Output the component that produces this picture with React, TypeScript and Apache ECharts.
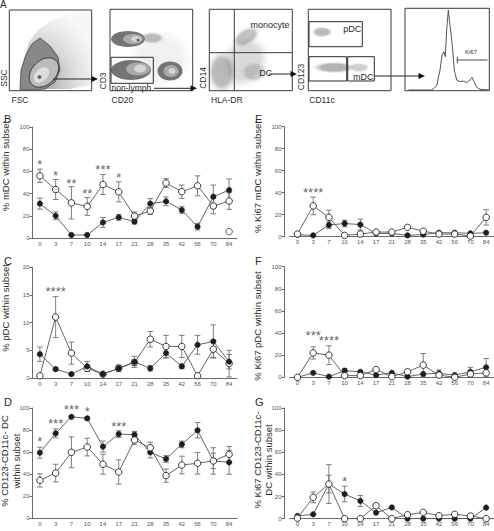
import React, { useEffect, useRef } from 'react';
import * as echarts from 'echarts';

// Days after infection (shared category axis for every time-course panel)
const days = ['0', '3', '7', '10', '14', '17', '21', '28', '35', '42', '56', '70', '84'];

// B: % mDC within subset
const mdcOpen = [56, 43.7, 31.7, 28.4, 48.2, 41.6, 19.8, 24.3, 49.5, 41.7, 47, 28.8, 33.3];
const mdcOpenErr = [6, 9, 14.5, 8, 9, 9, 3.6, 3, 4, 6, 9, 7, 7.5];
const mdcFilled = [31, 20, 2.7, 2.7, 14, 18.6, 14.7, 31, 33, 25.2, 10.2, 37.2, 43.2];
const mdcFilledErr = [5, 3.5, 0.5, 0.5, 4.5, 2.5, 2, 4.5, 4, 3, 3, 10.5, 10];
const mdcExtraDay = ['84'];
const mdcExtraValue = [5.7];
const mdcStarDay = [0, 1, 2, 3, 4, 5];
const mdcStarY = [68.6, 59, 52, 43, 64, 57.2];
const mdcStarText = ['*', '*', '**', '**', '***', '*'];

// C: % pDC within subset
const pdcOpen = [0.4, 11, 4.5, 1.75, 0.7, 1.75, 2.8, 7, 5.7, 5.7, 0.4, 5.2, 2.6];
const pdcOpenErr = [0.3, 3.7, 2, 0.5, 0.2, 0.6, 0.5, 1.4, 2, 2, 0, 1.5, 2.4];
const pdcFilled = [4.3, 1.6, 0.7, 2.1, 0.7, 1.75, 2.9, 1.75, 4.5, 2.1, 6, 6.6, 2.95];
const pdcFilledErr = [1.3, 0.3, 0.2, 0.9, 0.2, 0.5, 1, 0.5, 0.9, 0.4, 1.7, 3, 1.3];
const pdcStarDay = [1];
const pdcStarY = [16.2];
const pdcStarText = ['****'];

// D: % CD123-CD11c- DC within subset
const dnOpen = [34.4, 41, 59.8, 64.6, 49, 42, 71, 64, 38.7, 48.3, 49.9, 52, 58];
const dnOpenErr = [6, 8, 14, 8, 9, 11, 4, 5, 6, 8, 9.8, 12, 7];
const dnFilled = [59.5, 77, 92, 90.6, 65, 76.4, 75.8, 59.8, 53.8, 67, 79.8, 52, 50.8];
const dnFilledErr = [5, 4, 1, 1.5, 5, 3, 3, 5, 3, 3, 7, 7, 10.8];
const dnStarDay = [0, 1, 2, 3, 5];
const dnStarY = [72.5, 88.5, 101.5, 99.7, 85.5];
const dnStarText = ['*', '***', '***', '*', '***'];

// E: % Ki67+ mDC within subset
const kiMdcOpen = [2.4, 28, 17.6, 1.2, 2.4, 4.2, 4.2, 8.5, 5, 2.4, 2.4, 0.6, 17.6];
const kiMdcOpenErr = [0, 8, 6.5, 0, 0, 0, 0, 0, 0, 0, 0, 0, 7];
const kiMdcFilled = [1.8, 1.2, 10.6, 12, 11, 3, 3, 1.2, 2, 3.6, 3.6, 3, 3.6];
const kiMdcFilledErr = [0, 0, 3, 3, 5, 0, 0, 0, 0, 0, 0, 0, 0];
const kiMdcStarDay = [1];
const kiMdcStarY = [43];
const kiMdcStarText = ['****'];

// F: % Ki67+ pDC within subset
const kiPdcOpen = [0, 22, 20, 1.5, 1.5, 7, 0.6, 5, 11, 2, 0, 3, 4];
const kiPdcOpenErr = [0, 5.5, 8.5, 0, 0, 0, 0, 0, 10.5, 0, 0, 0, 0];
const kiPdcFilled = [0, 4, 0.6, 6, 5, 2, 4, 0.6, 3, 3.6, 2, 5, 9];
const kiPdcFilledErr = [0, 0, 0, 2, 1, 0, 0, 0, 0, 3, 0, 4, 8];
const kiPdcStarDay = [1, 2];
const kiPdcStarY = [40.5, 35.7];
const kiPdcStarText = ['***', '****'];

// G: % Ki67+ CD123-CD11c- DC within subset
const kiDnOpen = [0.5, 19.3, 31.3, 0, 0, 11.7, 0, 3.6, 5.7, 2.7, 4, 2.4, 0];
const kiDnOpenErr = [0, 4.8, 17.5, 0, 0, 2, 0, 0, 0, 0, 0, 0, 0];
const kiDnFilled = [2.5, 4, 31.3, 22.3, 16, 5.4, 10.2, 0, 0, 0, 0, 0, 10];
const kiDnFilledErr = [0, 0, 8, 7, 5, 0, 0, 0, 0, 0, 0, 0, 0];
const kiDnStarDay = [3];
const kiDnStarY = [35.9];
const kiDnStarText = ['*'];

const FONT = 'Liberation Sans, Arial, Helvetica, sans-serif';
const AXIS_COLOR = '#6a6a6a';
const LABEL_COLOR = '#555';
const TEXT_COLOR = '#2a2a2a';

type Panel = {
  letter: string;
  title: string;
  titleX: number;
  titleY: number;
  letterX: number;
  letterY: number;
  left: number;
  top: number;
  width: number;
  height: number;
  yOffset: number;
  yMax: number;
  yInterval: number;
  open: number[];
  openErr: number[];
  filled: number[];
  filledErr: number[];
  starDay: number[];
  starY: number[];
  starText: string[];
  openOnTop: boolean;
};

const panels: Panel[] = [
  {
    letter: 'B', title: '% mDC within subset', titleX: 5, titleY: 166, letterX: 4, letterY: 119,
    left: 32, top: 127, width: 205, height: 111, yOffset: 0, yMax: 100, yInterval: 20,
    open: mdcOpen, openErr: mdcOpenErr, filled: mdcFilled, filledErr: mdcFilledErr,
    starDay: mdcStarDay, starY: mdcStarY, starText: mdcStarText, openOnTop: true,
  },
  {
    letter: 'C', title: '% pDC within subset', titleX: 5, titleY: 308, letterX: 4, letterY: 261,
    left: 32, top: 267.3, width: 205, height: 110.7, yOffset: 0, yMax: 20, yInterval: 5,
    open: pdcOpen, openErr: pdcOpenErr, filled: pdcFilled, filledErr: pdcFilledErr,
    starDay: pdcStarDay, starY: pdcStarY, starText: pdcStarText, openOnTop: false,
  },
  {
    letter: 'D', title: '% CD123-CD11c- DC\nwithin subset', titleX: 10.5, titleY: 461, letterX: 4, letterY: 402,
    left: 32, top: 408, width: 205, height: 110.3, yOffset: 0, yMax: 100, yInterval: 20,
    open: dnOpen, openErr: dnOpenErr, filled: dnFilled, filledErr: dnFilledErr,
    starDay: dnStarDay, starY: dnStarY, starText: dnStarText, openOnTop: true,
  },
  {
    letter: 'E', title: '% Ki67 mDC within subset', titleX: 257, titleY: 177, letterX: 255, letterY: 119,
    left: 289.6, top: 126.7, width: 205.8, height: 110, yOffset: 5.6, yMax: 100, yInterval: 20,
    open: kiMdcOpen, openErr: kiMdcOpenErr, filled: kiMdcFilled, filledErr: kiMdcFilledErr,
    starDay: kiMdcStarDay, starY: kiMdcStarY, starText: kiMdcStarText, openOnTop: true,
  },
  {
    letter: 'F', title: '% Ki67 pDC within subset', titleX: 257, titleY: 326, letterX: 255, letterY: 261,
    left: 289.6, top: 266.7, width: 205.8, height: 110.6, yOffset: 5.6, yMax: 100, yInterval: 20,
    open: kiPdcOpen, openErr: kiPdcOpenErr, filled: kiPdcFilled, filledErr: kiPdcFilledErr,
    starDay: kiPdcStarDay, starY: kiPdcStarY, starText: kiPdcStarText, openOnTop: true,
  },
  {
    letter: 'G', title: '% Ki67 CD123-CD11c-\nDC within subset', titleX: 263, titleY: 460, letterX: 255, letterY: 402,
    left: 289.6, top: 408, width: 205.8, height: 110.7, yOffset: 5.6, yMax: 100, yInterval: 20,
    open: kiDnOpen, openErr: kiDnOpenErr, filled: kiDnFilled, filledErr: kiDnFilledErr,
    starDay: kiDnStarDay, starY: kiDnStarY, starText: kiDnStarText, openOnTop: true,
  },
];

function errorBars(idx: number, values: number[], errs: number[]) {
  const rows: number[][] = [];
  values.forEach((v, k) => {
    if (errs[k] > 0) rows.push([k, Math.max(0, v - errs[k]), v + errs[k]]);
  });
  return {
    type: 'custom',
    xAxisIndex: idx,
    yAxisIndex: idx,
    silent: true,
    z: 2,
    data: rows,
    encode: { x: 0, y: [1, 2] },
    renderItem: (_params: any, api: any) => {
      const k = api.value(0);
      const a = api.coord([k, api.value(1)]);
      const b = api.coord([k, api.value(2)]);
      const w = 2.8;
      const style = { stroke: '#707070', lineWidth: 0.9, fill: null };
      return {
        type: 'group',
        children: [
          { type: 'line', shape: { x1: a[0], y1: a[1], x2: b[0], y2: b[1] }, style },
          { type: 'line', shape: { x1: a[0] - w, y1: a[1], x2: a[0] + w, y2: a[1] }, style },
          { type: 'line', shape: { x1: b[0] - w, y1: b[1], x2: b[0] + w, y2: b[1] }, style },
        ],
      };
    },
  };
}

function lineSeries(idx: number, values: number[], open: boolean, z: number) {
  return {
    type: 'line',
    xAxisIndex: idx,
    yAxisIndex: idx,
    data: values,
    z,
    symbol: 'circle',
    symbolSize: open ? 6.5 : 5.5,
    showSymbol: true,
    lineStyle: { color: '#555', width: 0.9 },
    itemStyle: open
      ? { color: '#fff', borderColor: '#222', borderWidth: 0.9 }
      : { color: '#1e1e1e', borderColor: '#1e1e1e', borderWidth: 0.5 },
    emphasis: { disabled: true },
  };
}

function starSeries(idx: number, at: number[], ys: number[], texts: string[]) {
  return {
    type: 'scatter',
    xAxisIndex: idx,
    yAxisIndex: idx,
    clip: false,
    silent: true,
    z: 6,
    symbolSize: 1,
    itemStyle: { color: 'transparent' },
    data: at.map((k, i) => ({
      value: [k, ys[i]],
      label: { formatter: texts[i] },
    })),
    label: {
      show: true,
      position: 'inside',
      offset: [0, 3],
      fontSize: 13,
      fontFamily: FONT,
      color: '#3a3a3a',
    },
  };
}

// ---------- Panel A: gating strategy sketches ----------
function arrow(x1: number, y: number, x2: number) {
  return [
    { type: 'line', shape: { x1, y1: y, x2: x2 - 5, y2: y }, style: { stroke: '#222', lineWidth: 1 } },
    {
      type: 'polygon',
      shape: { points: [[x2, y], [x2 - 6.5, y - 3], [x2 - 6.5, y + 3]] },
      style: { fill: '#111' },
    },
  ];
}

function box(x1: number, y1: number, x2: number, y2: number, stroke = '#3a3a3a') {
  return {
    type: 'rect',
    shape: { x: x1, y: y1, width: x2 - x1, height: y2 - y1 },
    style: { fill: 'none', stroke, lineWidth: 1 },
  };
}

function txt(text: string, x: number, y: number, size: number, extra: any = {}) {
  return {
    type: 'text',
    x,
    y,
    style: {
      text,
      fontSize: size,
      fontFamily: FONT,
      fill: TEXT_COLOR,
      align: 'left',
      verticalAlign: 'middle',
      ...extra,
    },
  };
}

// vertical text reading bottom-to-top, centred on (x, y)
function vtxt(text: string, x: number, y: number, size: number) {
  return {
    type: 'group',
    x,
    y,
    rotation: Math.PI / 2,
    children: [
      {
        type: 'text',
        x: 0,
        y: 0,
        style: {
          text,
          fontSize: size,
          fontFamily: FONT,
          fill: TEXT_COLOR,
          align: 'center',
          verticalAlign: 'middle',
          lineHeight: size * 1.25,
        },
      },
    ],
  };
}

function blob(cx: number, cy: number, rx: number, ry: number, fill: any, rot = 0, stroke?: string) {
  return {
    type: 'ellipse',
    x: cx,
    y: cy,
    rotation: rot,
    shape: { cx: 0, cy: 0, rx, ry },
    style: stroke ? { fill, stroke, lineWidth: 0.8 } : { fill },
  };
}

function poly(points: number[][], fill: any, stroke?: string) {
  return {
    type: 'polygon',
    shape: { points },
    style: stroke ? { fill, stroke, lineWidth: 0.8 } : { fill },
  };
}

function haze(cx: number, cy: number, rx: number, ry: number, inner: string, rot = 0) {
  const g = new echarts.graphic.RadialGradient(0.5, 0.5, 0.5, [
    { offset: 0, color: inner },
    { offset: 0.6, color: inner },
    { offset: 1, color: 'rgba(200,200,200,0)' },
  ]);
  return blob(cx, cy, rx, ry, g, rot);
}

const histogramTrace = [
  [408.5, 90], [431.7, 90], [436.7, 86], [440, 70], [442, 55], [444, 51.7], [445.3, 56.7],
  [446.7, 30], [448.3, 10], [449.7, 23.3], [451, 33.3], [452.7, 50], [454.3, 70], [456.7, 80],
  [460, 81.7], [464, 81], [466.7, 82.7], [470, 80], [472, 77.3], [474, 81.7], [476.7, 87.3],
  [480, 89.3], [489, 90],
];

function gatingGraphics() {
  const fan = new echarts.graphic.RadialGradient(0.15, 0.95, 1.0, [
    { offset: 0, color: 'rgba(110,110,110,0.8)' },
    { offset: 0.5, color: 'rgba(150,150,150,0.45)' },
    { offset: 1, color: 'rgba(190,190,190,0.12)' },
  ]);
  const els: any[] = [
    txt('A', 0, 4.5, 10),
    // FSC / SSC
    poly([[22, 89], [23, 62], [29, 42], [38, 30], [52, 20], [72, 13], [91, 11], [91, 85], [70, 89]], fan),
    poly([[20, 89.5], [21, 70], [26, 55], [32, 44], [40, 38], [50, 46], [58, 57], [60, 70], [55, 82], [45, 89], [30, 90]], '#888', '#444'),
    blob(44, 72.5, 17, 12, '#bcbcbc', Math.PI / 4, '#2e2e2e'),
    blob(41.5, 75, 9, 6, '#dedede', Math.PI / 4),
    { type: 'circle', shape: { cx: 39.5, cy: 77, r: 2 }, style: { fill: '#6a6a6a' } },
    box(9.3, 10, 91.7, 90.7),
    ...arrow(53, 79, 98),
    vtxt('SSC', 3.5, 78, 8.5),
    txt('FSC', 11.5, 100, 8.5),
    // CD20 / CD3
    haze(160, 58, 34, 30, 'rgba(175,175,175,0.18)'),
    haze(152, 38, 13, 6, 'rgba(130,130,130,0.5)'),
    blob(128, 39, 17, 8, '#747474'),
    blob(133, 39, 10, 5, '#aaaaaa'),
    blob(136, 39, 5, 3, '#d6d6d6'),
    { type: 'circle', shape: { cx: 138, cy: 40, r: 1.4 }, style: { fill: '#555' } },
    blob(131, 70, 20, 10, '#747474'),
    blob(138, 69, 12, 6.5, '#aaaaaa'),
    blob(140, 68.5, 6, 4, '#d6d6d6'),
    blob(170, 71, 12.5, 9.5, '#747474'),
    blob(171, 71, 7.5, 6, '#aaaaaa'),
    blob(172, 71, 3.5, 3, '#d6d6d6'),
    box(111, 57.3, 153.3, 83.3, '#2a2a2a'),
    box(110, 9.3, 192.7, 90.7),
    txt('non-lymph', 111.5, 88.3, 8.5),
    ...arrow(154, 88.3, 197),
    vtxt('CD3', 102.5, 81, 8.5),
    txt('CD20', 111.5, 100, 8.5),
    // HLA-DR / CD14
    haze(222, 72, 15, 22, 'rgba(130,130,130,0.55)'),
    haze(244, 62, 24, 30, 'rgba(150,150,150,0.35)', -Math.PI / 5),
    haze(246, 37, 16, 9, 'rgba(120,120,120,0.45)', Math.PI / 6),
    haze(254, 72, 14, 11, 'rgba(140,140,140,0.4)'),
    { type: 'line', shape: { x1: 234.3, y1: 9.3, x2: 234.3, y2: 90.7 }, style: { stroke: '#3a3a3a', lineWidth: 1 } },
    { type: 'line', shape: { x1: 209.3, y1: 52.7, x2: 292.3, y2: 52.7 }, style: { stroke: '#3a3a3a', lineWidth: 1 } },
    box(209.3, 9.3, 292.3, 90.7),
    txt('monocyte', 250.5, 24.5, 9),
    txt('DC', 259.3, 72.5, 9),
    ...arrow(269, 74, 297),
    vtxt('CD14', 202.5, 78, 8.5),
    txt('HLA-DR', 211, 100, 8.5),
    // CD11c / CD123
    haze(322, 32, 11, 5.5, 'rgba(130,130,130,0.55)'),
    haze(334, 67.5, 22, 6, 'rgba(120,120,120,0.55)'),
    haze(359, 67.5, 11, 5, 'rgba(150,150,150,0.45)'),
    box(309, 21.7, 362.3, 46.7, '#2a2a2a'),
    box(309, 56.7, 346.7, 81, '#2a2a2a'),
    box(347.7, 56.7, 374.3, 81, '#2a2a2a'),
    box(308.3, 9.3, 391, 90.7),
    txt('pDC', 343.3, 28.5, 9),
    txt('mDC', 353, 76.5, 9),
    ...arrow(374.3, 76, 425),
    vtxt('CD123', 301, 77, 8.5),
    txt('CD11c', 309.3, 100, 8.5),
    // Ki67 histogram
    { type: 'polyline', shape: { points: histogramTrace }, style: { stroke: '#444', lineWidth: 0.9, fill: null } },
    { type: 'line', shape: { x1: 457.3, y1: 60, x2: 487.3, y2: 60 }, style: { stroke: '#333', lineWidth: 0.9 } },
    { type: 'line', shape: { x1: 457.3, y1: 56.7, x2: 457.3, y2: 63.3 }, style: { stroke: '#333', lineWidth: 0.9 } },
    txt('Ki67', 465, 52, 6),
    box(405, 8.3, 489.3, 90.7),
  ];
  return els;
}

export default function App() {
  const ref = useRef<HTMLDivElement>(null);

  useEffect(() => {
    if (!ref.current) return;
    const chart = echarts.init(ref.current, undefined, { renderer: 'svg' });

    const grid = panels.map((p) => ({ left: p.left, top: p.top, width: p.width, height: p.height, containLabel: false }));
    const xAxis = panels.map((_p, i) => ({
      type: 'category',
      gridIndex: i,
      data: days,
      boundaryGap: true,
      axisLine: { lineStyle: { color: AXIS_COLOR, width: 1 } },
      axisTick: { alignWithLabel: true, length: 2.5, lineStyle: { color: AXIS_COLOR } },
      axisLabel: { interval: 0, fontSize: 6, color: LABEL_COLOR, margin: 2.5, fontFamily: FONT },
      splitLine: { show: false },
    }));
    const yAxis = panels.map((p, i) => ({
      type: 'value',
      gridIndex: i,
      min: 0,
      max: p.yMax,
      interval: p.yInterval,
      offset: p.yOffset,
      axisLine: { show: true, lineStyle: { color: AXIS_COLOR, width: 1 } },
      axisTick: { show: true, length: 2.5, lineStyle: { color: AXIS_COLOR } },
      axisLabel: { fontSize: 6, color: LABEL_COLOR, margin: 2.5, fontFamily: FONT },
      splitLine: { show: false },
    }));

    const series: any[] = [];
    panels.forEach((p, i) => {
      series.push(errorBars(i, p.filled, p.filledErr));
      series.push(errorBars(i, p.open, p.openErr));
      series.push(lineSeries(i, p.filled, false, p.openOnTop ? 3 : 5));
      series.push(lineSeries(i, p.open, true, p.openOnTop ? 5 : 3));
      series.push(starSeries(i, p.starDay, p.starY, p.starText));
    });
    // lone open-circle value on day 84 in panel B
    series.push({
      type: 'scatter',
      xAxisIndex: 0,
      yAxisIndex: 0,
      z: 5,
      symbol: 'circle',
      symbolSize: 6.5,
      itemStyle: { color: '#fff', borderColor: '#222', borderWidth: 0.9 },
      data: mdcExtraDay.map((d, k) => [d, mdcExtraValue[k]]),
    });

    const graphics: any[] = [...gatingGraphics()];
    panels.forEach((p) => {
      graphics.push(txt(p.letter, p.letterX, p.letterY, 11));
      graphics.push(vtxt(p.title, p.titleX, p.titleY, 9.5));
    });

    chart.setOption({
      animation: false,
      backgroundColor: '#fff',
      textStyle: { fontFamily: FONT },
      grid,
      xAxis,
      yAxis,
      series,
      graphic: { elements: graphics },
    });

    return () => chart.dispose();
  }, []);

  return (
    <div
      ref={ref}
      style={{ position: 'absolute', left: 0, top: 0, width: 494, height: 531 }}
    />
  );
}
